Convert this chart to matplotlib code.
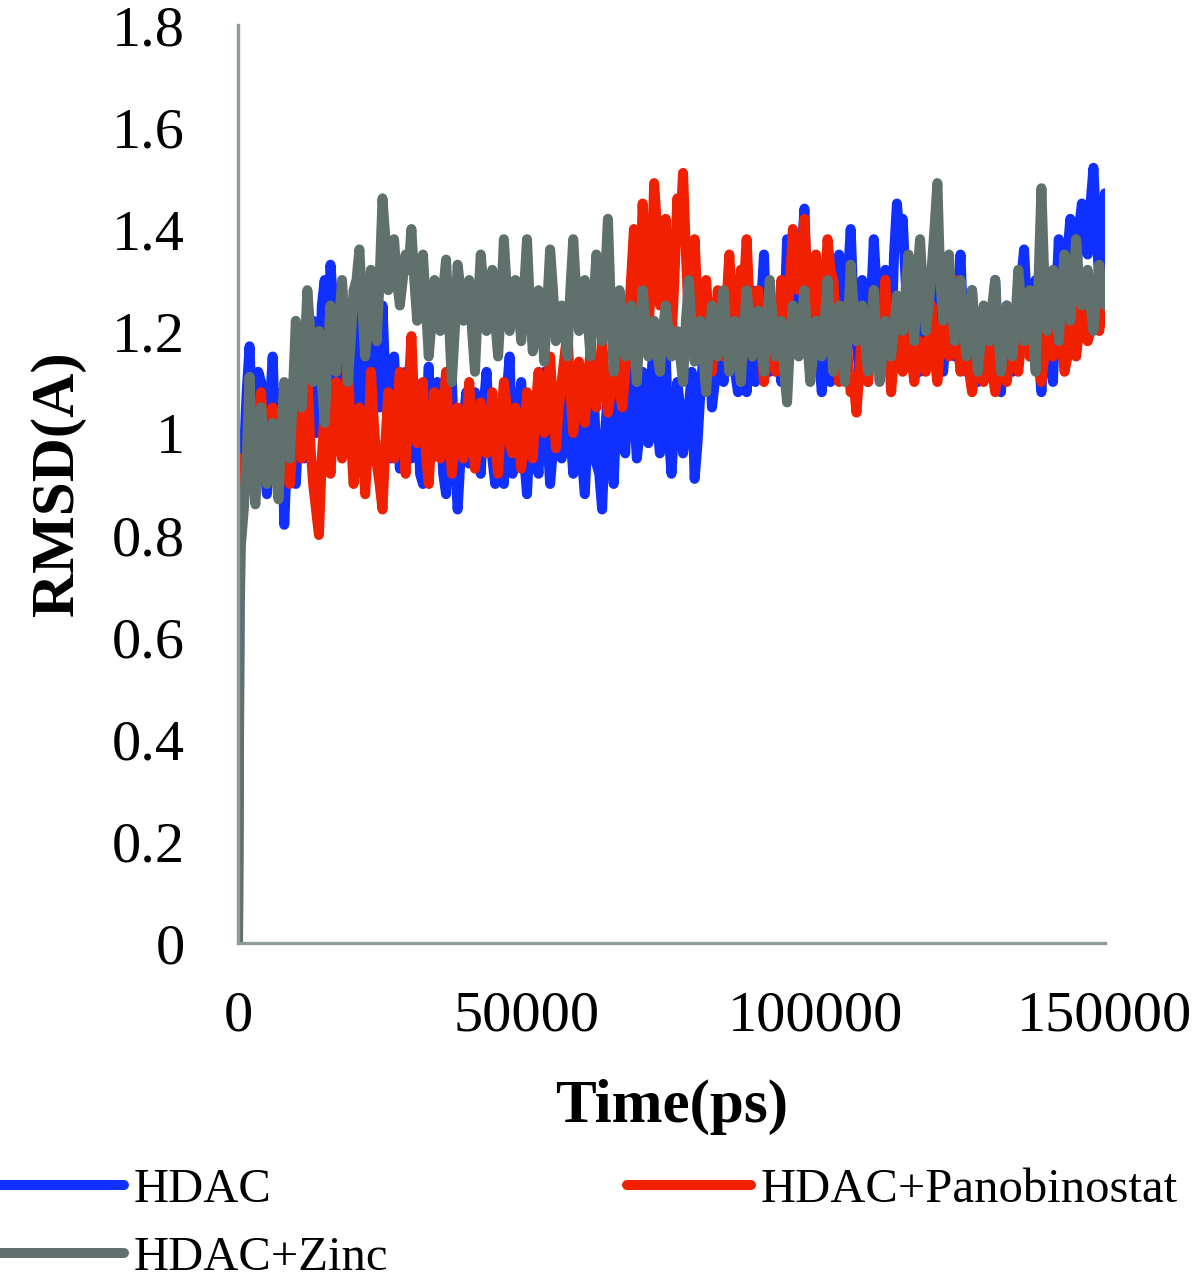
import matplotlib
matplotlib.use("Agg")
import matplotlib.pyplot as plt

# ---- data ----
time_ps = [0, 300] + list(range(500, 150001, 500))

hdac = [0.00, 0.80,
    0.90, 0.95, 1.08, 1.17, 1.00, 0.92, 1.12, 1.10, 0.95, 0.88,
    1.05, 1.15, 0.98, 0.95, 1.08, 0.82, 0.96, 1.05, 1.10, 0.90,
    1.02, 1.12, 0.95, 1.00, 1.18, 1.22, 1.00, 1.05, 1.25, 1.30,
    1.10, 1.33, 1.25, 1.08, 1.20, 1.28, 0.98, 1.02, 1.15, 1.25,
    1.00, 1.10, 1.22, 1.30, 1.05, 0.98, 1.12, 1.18, 1.05, 1.25,
    1.10, 1.00, 0.95, 1.15, 1.05, 0.93, 1.08, 1.12, 0.98, 0.95,
    1.10, 1.08, 0.92, 0.90, 1.02, 1.13, 0.95, 0.96, 1.10, 1.05,
    0.92, 0.88, 1.05, 1.10, 0.96, 0.85, 0.95, 1.02, 1.08, 0.94,
    0.98, 1.08, 1.00, 0.92, 1.05, 1.12, 1.00, 0.95, 0.90, 1.05,
    0.95, 0.90, 1.08, 1.15, 0.92, 0.97, 1.05, 1.10, 0.95, 0.88,
    1.00, 1.05, 0.95, 0.92, 1.08, 1.12, 1.00, 0.90, 0.97, 1.08,
    1.02, 0.95, 1.10, 1.15, 1.00, 0.92, 1.05, 1.10, 0.95, 0.88,
    1.00, 1.05, 1.10, 0.94, 0.92, 0.85, 1.00, 1.08, 1.02, 0.90,
    1.05, 1.12, 0.98, 0.96, 1.10, 1.18, 1.05, 0.95, 1.00, 1.12,
    1.05, 0.98, 1.10, 1.20, 1.02, 0.96, 1.08, 1.15, 1.00, 0.92,
    1.02, 1.10, 1.05, 0.96, 1.00, 1.05, 1.12, 0.91, 0.98, 1.08,
    1.15, 1.12, 1.20, 1.05, 1.10, 1.25, 1.18, 1.10, 1.22, 1.30,
    1.20, 1.12, 1.08, 1.22, 1.15, 1.08, 1.18, 1.28, 1.10, 1.15,
    1.25, 1.35, 1.18, 1.12, 1.20, 1.25, 1.15, 1.10, 1.22, 1.38,
    1.25, 1.18, 1.22, 1.30, 1.35, 1.44, 1.25, 1.15, 1.20, 1.28,
    1.15, 1.08, 1.18, 1.22, 1.10, 1.12, 1.28, 1.35, 1.25, 1.15,
    1.30, 1.40, 1.25, 1.18, 1.12, 1.30, 1.20, 1.10, 1.25, 1.38,
    1.28, 1.20, 1.25, 1.32, 1.18, 1.15, 1.35, 1.45, 1.38, 1.42,
    1.30, 1.18, 1.22, 1.30, 1.20, 1.12, 1.18, 1.25, 1.20, 1.15,
    1.22, 1.30, 1.18, 1.12, 1.20, 1.28, 1.22, 1.15, 1.25, 1.35,
    1.20, 1.12, 1.18, 1.28, 1.15, 1.10, 1.15, 1.22, 1.20, 1.14,
    1.22, 1.30, 1.15, 1.08, 1.18, 1.25, 1.20, 1.12, 1.22, 1.28,
    1.30, 1.36, 1.25, 1.15, 1.22, 1.30, 1.15, 1.08, 1.18, 1.25,
    1.15, 1.10, 1.25, 1.38, 1.30, 1.20, 1.35, 1.42, 1.38, 1.30,
    1.40, 1.45, 1.38, 1.35, 1.45, 1.52, 1.40, 1.30, 1.38, 1.47]

hdac_pano = [0.35, 0.95,
    0.92, 0.88, 0.95, 1.00, 0.96, 0.90, 1.02, 1.08, 0.98, 0.92,
    1.00, 1.05, 0.95, 0.88, 0.93, 1.00, 1.05, 0.90, 0.98, 1.08,
    1.00, 0.95, 1.05, 1.12, 0.98, 0.90, 0.85, 0.80, 0.95, 1.05,
    1.00, 0.92, 1.02, 1.10, 1.00, 0.95, 1.05, 1.15, 1.00, 0.90,
    0.96, 1.05, 1.00, 0.88, 0.98, 1.12, 1.02, 0.94, 0.90, 0.85,
    0.98, 1.08, 1.02, 0.95, 1.05, 1.12, 1.00, 0.92, 1.08, 1.19,
    1.05, 0.98, 1.02, 1.10, 0.96, 0.90, 1.00, 1.08, 1.02, 0.95,
    1.05, 1.12, 1.00, 0.92, 0.98, 1.05, 1.00, 0.95, 1.02, 1.10,
    1.00, 0.93, 0.98, 1.06, 1.02, 0.96, 1.00, 1.08, 0.98, 0.92,
    1.02, 1.10, 1.05, 0.98, 0.96, 1.05, 1.00, 0.93, 0.98, 1.08,
    1.02, 0.95, 1.05, 1.12, 1.05, 1.00, 1.08, 1.15, 1.05, 0.97,
    1.05, 1.10, 1.15, 1.20, 1.08, 1.00, 1.06, 1.14, 1.08, 1.02,
    1.10, 1.16, 1.08, 1.05, 1.12, 1.18, 1.10, 1.04, 1.08, 1.12,
    1.15, 1.08, 1.05, 1.12, 1.20, 1.30, 1.40, 1.15, 1.25, 1.45,
    1.35, 1.20, 1.30, 1.49, 1.40, 1.25, 1.32, 1.42, 1.28, 1.18,
    1.30, 1.46, 1.40, 1.51, 1.35, 1.22, 1.30, 1.38, 1.25, 1.15,
    1.22, 1.30, 1.20, 1.12, 1.18, 1.28, 1.22, 1.15, 1.25, 1.35,
    1.25, 1.18, 1.22, 1.32, 1.28, 1.38, 1.25, 1.15, 1.20, 1.28,
    1.18, 1.10, 1.15, 1.25, 1.20, 1.12, 1.18, 1.30, 1.25, 1.20,
    1.30, 1.40, 1.32, 1.28, 1.35, 1.42, 1.30, 1.22, 1.28, 1.35,
    1.25, 1.18, 1.28, 1.38, 1.32, 1.30, 1.20, 1.10, 1.15, 1.25,
    1.15, 1.08, 1.10, 1.04, 1.12, 1.20, 1.15, 1.10, 1.18, 1.28,
    1.20, 1.12, 1.22, 1.30, 1.18, 1.08, 1.15, 1.25, 1.18, 1.12,
    1.18, 1.22, 1.15, 1.10, 1.14, 1.18, 1.15, 1.12, 1.18, 1.25,
    1.15, 1.10, 1.18, 1.22, 1.20, 1.15, 1.22, 1.30, 1.18, 1.12,
    1.15, 1.20, 1.12, 1.08, 1.12, 1.18, 1.14, 1.10, 1.15, 1.22,
    1.12, 1.08, 1.12, 1.15, 1.13, 1.10, 1.15, 1.20, 1.16, 1.12,
    1.18, 1.25, 1.20, 1.15, 1.18, 1.22, 1.15, 1.10, 1.15, 1.20,
    1.18, 1.15, 1.20, 1.26, 1.18, 1.12, 1.15, 1.22, 1.18, 1.15,
    1.20, 1.28, 1.22, 1.18, 1.20, 1.25, 1.22, 1.20, 1.24, 1.26]

hdac_zinc = [0.00, 0.65,
    0.78, 0.85, 0.95, 1.11, 0.95, 0.86, 0.96, 1.05, 0.98, 0.90,
    0.95, 1.02, 0.93, 0.87, 1.00, 1.10, 1.02, 0.95, 1.08, 1.22,
    1.12, 1.05, 1.15, 1.28, 1.20, 1.10, 1.15, 1.20, 1.10, 1.02,
    1.15, 1.25, 1.18, 1.12, 1.22, 1.30, 1.20, 1.10, 1.18, 1.28,
    1.30, 1.36, 1.25, 1.15, 1.22, 1.32, 1.25, 1.18, 1.30, 1.46,
    1.38, 1.28, 1.32, 1.38, 1.30, 1.25, 1.30, 1.35, 1.32, 1.40,
    1.30, 1.22, 1.28, 1.35, 1.25, 1.15, 1.22, 1.30, 1.25, 1.20,
    1.28, 1.34, 1.22, 1.10, 1.20, 1.33, 1.28, 1.22, 1.25, 1.30,
    1.20, 1.12, 1.25, 1.35, 1.28, 1.20, 1.25, 1.32, 1.22, 1.15,
    1.25, 1.38, 1.28, 1.20, 1.25, 1.30, 1.25, 1.18, 1.28, 1.38,
    1.25, 1.16, 1.20, 1.28, 1.22, 1.14, 1.25, 1.36, 1.28, 1.18,
    1.22, 1.25, 1.20, 1.15, 1.28, 1.38, 1.28, 1.20, 1.25, 1.30,
    1.22, 1.15, 1.25, 1.35, 1.25, 1.18, 1.30, 1.42, 1.25, 1.12,
    1.20, 1.28, 1.22, 1.15, 1.20, 1.25, 1.18, 1.10, 1.20, 1.28,
    1.22, 1.15, 1.18, 1.22, 1.16, 1.12, 1.20, 1.25, 1.20, 1.15,
    1.18, 1.20, 1.15, 1.10, 1.22, 1.30, 1.20, 1.14, 1.18, 1.22,
    1.15, 1.08, 1.18, 1.25, 1.20, 1.15, 1.22, 1.28, 1.20, 1.12,
    1.18, 1.22, 1.15, 1.10, 1.20, 1.28, 1.22, 1.15, 1.20, 1.24,
    1.18, 1.12, 1.22, 1.30, 1.22, 1.15, 1.18, 1.22, 1.12, 1.06,
    1.18, 1.25, 1.20, 1.15, 1.22, 1.28, 1.18, 1.10, 1.15, 1.22,
    1.18, 1.15, 1.22, 1.30, 1.20, 1.12, 1.18, 1.25, 1.18, 1.10,
    1.20, 1.33, 1.25, 1.18, 1.22, 1.25, 1.18, 1.12, 1.20, 1.28,
    1.18, 1.10, 1.15, 1.22, 1.18, 1.15, 1.20, 1.27, 1.22, 1.20,
    1.28, 1.35, 1.25, 1.18, 1.30, 1.38, 1.28, 1.20, 1.25, 1.32,
    1.40, 1.49, 1.30, 1.22, 1.28, 1.35, 1.25, 1.18, 1.22, 1.30,
    1.22, 1.15, 1.20, 1.28, 1.20, 1.12, 1.18, 1.25, 1.22, 1.18,
    1.25, 1.30, 1.20, 1.12, 1.18, 1.25, 1.20, 1.15, 1.22, 1.32,
    1.25, 1.18, 1.22, 1.28, 1.20, 1.12, 1.30, 1.48, 1.30, 1.20,
    1.25, 1.32, 1.25, 1.18, 1.28, 1.35, 1.28, 1.22, 1.30, 1.38,
    1.30, 1.25, 1.28, 1.32, 1.25, 1.20, 1.28, 1.33, 1.28, 1.25]

series_names = ["HDAC", "HDAC+Panobinostat", "HDAC+Zinc"]
series_colors = ["#1030ff", "#f02000", "#5f706d"]

x_ticks = [0, 50000, 100000, 150000]
x_ticklabels = ["0", "50000", "100000", "150000"]
y_ticks = [0, 0.2, 0.4, 0.6, 0.8, 1.0, 1.2, 1.4, 1.6, 1.8]
y_ticklabels = ["0", "0.2", "0.4", "0.6", "0.8", "1", "1.2", "1.4", "1.6", "1.8"]

# ---- plot ----
plt.rcParams['font.family'] = ['Liberation Serif', 'DejaVu Serif']
fig = plt.figure(figsize=(11.95, 12.84), dpi=100)
ax = fig.add_axes([238/1195, 1 - 943/1284, 867/1195, 918/1284])

lines = []
for vals, name, col in zip([hdac, hdac_pano, hdac_zinc], series_names, series_colors):
    ln, = ax.plot(time_ps, vals, color=col, lw=7.2, label=name,
                  solid_capstyle='round', solid_joinstyle='round')
    lines.append(ln)

ax.set_xlim(0, 150000)
ax.set_ylim(0, 1.8)
ax.set_xticks(x_ticks)
ax.set_xticklabels(x_ticklabels)
ax.set_yticks(y_ticks)
ax.set_yticklabels(y_ticklabels)
ax.tick_params(axis='both', length=0, labelsize=42)
ax.tick_params(axis='y', pad=38)
ax.tick_params(axis='x', pad=34)
for s in ['top', 'right']:
    ax.spines[s].set_visible(False)
for s in ['left', 'bottom']:
    ax.spines[s].set_color('#8f9c99')
    ax.spines[s].set_linewidth(2.4)

ax.set_ylabel("RMSD(A)", fontsize=44, fontweight='bold')
ax.yaxis.set_label_coords(-0.175, 0.5)
ax.set_xlabel("Time(ps)", fontsize=44, fontweight='bold')
ax.xaxis.set_label_coords(0.5, -0.148)

# legend: row 1 = HDAC, HDAC+Panobinostat ; row 2 = HDAC+Zinc (column-major fill)
order = [0, 2, 1]
leg = fig.legend([lines[i] for i in order], [series_names[i] for i in order],
                 loc='upper left', bbox_to_anchor=(0.0, 1 - 1168/1284),
                 ncol=2, frameon=False, fontsize=35, handlelength=2.55,
                 handletextpad=0.2, columnspacing=4.92, labelspacing=0.5,
                 borderpad=0, borderaxespad=0)
for line in leg.get_lines():
    line.set_linewidth(7.2)
    line.set_solid_capstyle('round')

fig.savefig("out.png", dpi=100)
